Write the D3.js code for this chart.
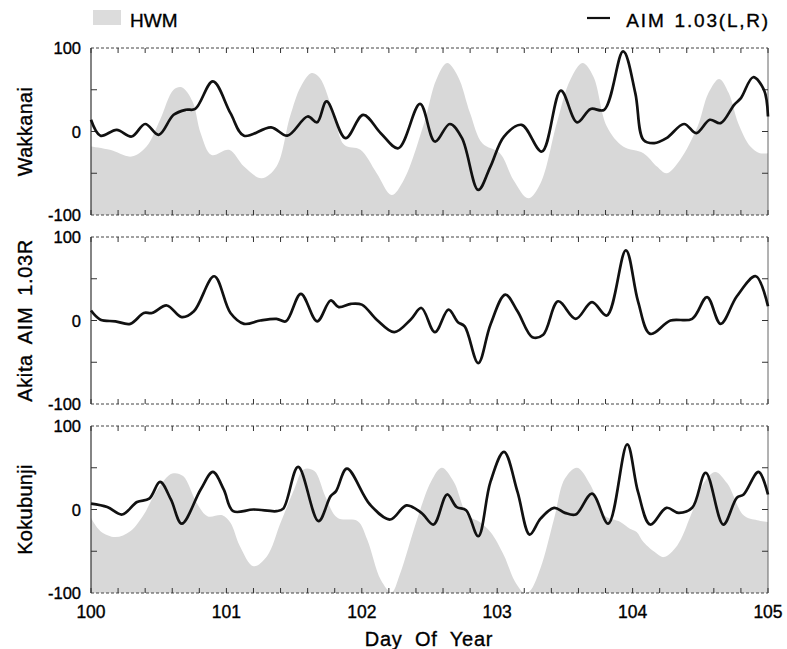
<!DOCTYPE html>
<html><head><meta charset="utf-8">
<script src="https://cdn.jsdelivr.net/npm/d3@7"></script>
<style>body{margin:0;background:#fff}svg{display:block}text{font-family:"Liberation Sans",Arial,Helvetica,sans-serif;fill:#000;stroke:#000;stroke-width:0.35px}</style>
</head><body><svg id="c" width="787" height="649"></svg>
<script>
// ---- data ----
const panelNames = ["Wakkanai", "Akita AIM 1.03R", "Kokubunji"];
const xTickLabels = [100, 101, 102, 103, 104, 105];
const yTickLabels = [100, 0, -100];

const wakLineDay = [100.0,100.07,100.19,100.30,100.40,100.50,100.61,100.70,100.77,100.90,101.03,101.13,101.33,101.45,101.60,101.67,101.74,101.88,102.01,102.14,102.27,102.43,102.54,102.65,102.74,102.86,102.95,103.05,103.18,103.33,103.47,103.59,103.69,103.79,103.93,104.02,104.08,104.16,104.25,104.38,104.47,104.57,104.65,104.75,104.80,104.89,104.97,105.0];
const wakLineVal = [14,-5,2,-6,9,-4,20,26,27,60,22,-5,5,-5,18,11,36,-8,20,-2,-20,33,-12,9,-8,-70,-42,-6,8,-24,49,11,27,26,96,46,-10,-14,-8,9,-2,14,10,32,40,65,50,18];
const wakHwmDay = [100.0,100.14,100.30,100.41,100.51,100.61,100.67,100.75,100.81,100.89,101.02,101.13,101.26,101.37,101.47,101.55,101.63,101.69,101.79,101.87,101.99,102.11,102.22,102.31,102.46,102.55,102.63,102.71,102.80,102.89,103.02,103.12,103.23,103.32,103.44,103.54,103.63,103.71,103.81,103.93,104.08,104.18,104.25,104.35,104.48,104.56,104.64,104.71,104.78,104.87,104.94,105.0];
const wakHwmVal = [-18,-22,-30,-18,14,50,53,36,-2,-28,-22,-42,-56,-42,18,54,70,64,22,-16,-22,-50,-76,-58,10,62,82,66,22,-14,-26,-58,-80,-62,10,62,82,66,6,-18,-26,-42,-50,-34,6,46,63,46,10,-18,-26,-26];

const akiLineDay = [100.0,100.07,100.18,100.29,100.39,100.45,100.56,100.67,100.76,100.91,101.03,101.13,101.25,101.37,101.44,101.55,101.67,101.77,101.83,101.92,102.0,102.11,102.24,102.36,102.44,102.54,102.64,102.71,102.76,102.86,102.95,103.06,103.15,103.26,103.34,103.45,103.58,103.70,103.81,103.95,104.04,104.13,104.28,104.44,104.55,104.65,104.77,104.91,105.0];
const akiLineVal = [12,1,-1,-4,9,9,18,4,11,53,9,-4,0,2,-1,32,-1,24,16,20,19,1,-14,1,15,-14,13,-2,-7,-51,-5,31,11,-20,-17,23,2,22,6,84,23,-16,0,2,28,-4,29,53,17];

const kokLineDay = [100.0,100.12,100.23,100.34,100.43,100.51,100.59,100.67,100.81,100.90,100.98,101.05,101.20,101.37,101.42,101.53,101.68,101.77,101.81,101.89,102.06,102.21,102.33,102.44,102.53,102.63,102.70,102.77,102.86,102.95,103.05,103.15,103.24,103.32,103.42,103.50,103.58,103.70,103.82,103.96,104.04,104.13,104.25,104.34,104.44,104.54,104.67,104.77,104.82,104.93,105.0];
const kokLineVal = [7,3,-6,9,13,33,12,-17,24,45,24,-2,0,-2,1,51,-14,16,22,49,6,-12,5,-4,-18,18,3,-1,-32,33,69,21,-30,-11,2,-4,-6,19,-17,78,21,-18,2,-4,2,44,-18,14,18,45,18];
const kokHwmDay = [100.0,100.07,100.18,100.29,100.39,100.49,100.60,100.68,100.78,100.86,100.97,101.03,101.10,101.20,101.30,101.40,101.50,101.57,101.65,101.73,101.82,101.97,102.04,102.14,102.22,102.28,102.41,102.51,102.59,102.68,102.78,102.87,102.95,103.05,103.13,103.20,103.24,103.32,103.42,103.50,103.59,103.69,103.79,103.91,103.98,104.03,104.08,104.18,104.23,104.33,104.43,104.53,104.61,104.70,104.82,104.92,105.0];
const kokHwmVal = [-10,-26,-33,-26,-6,24,43,40,8,-8,-7,-16,-44,-68,-56,-16,24,48,46,16,-10,-14,-36,-84,-99,-78,-11,33,50,33,-7,-15,-27,-55,-86,-100,-98,-70,-11,37,50,29,-7,-15,-23,-27,-39,-53,-57,-43,-7,33,45,31,-7,-13,-15];

// ---- layout ----
const svg = d3.select("#c");
const x = d3.scaleLinear().domain([100, 105]).range([91, 768]);
const panels = [
  {name: panelNames[0], top: 48, bot: 215, line: [wakLineDay, wakLineVal], hwm: [wakHwmDay, wakHwmVal]},
  {name: panelNames[1], top: 237, bot: 404, line: [akiLineDay, akiLineVal], hwm: null},
  {name: panelNames[2], top: 426, bot: 593, line: [kokLineDay, kokLineVal], hwm: [kokHwmDay, kokHwmVal]}
];
const zip = (a, b) => a.map((d, i) => [d, b[i]]);

panels.forEach((p, pi) => {
  const y = d3.scaleLinear().domain([-100, 100]).range([p.bot, p.top]);
  const g = svg.append("g");
  if (p.hwm) {
    const area = d3.area().x(d => x(d[0])).y0(y(-100)).y1(d => y(Math.max(-100, d[1]))).curve(d3.curveCatmullRom.alpha(0.5));
    g.append("path").datum(zip(p.hwm[0], p.hwm[1])).attr("d", area).attr("fill", "#d8d8d8");
  }
  // frame
  g.append("line").attr("x1", x(100)).attr("x2", x(105)).attr("y1", p.top).attr("y2", p.top).attr("stroke", "#444").attr("stroke-width", 1).attr("stroke-dasharray", "3,2");
  g.append("line").attr("x1", x(100)).attr("x2", x(105)).attr("y1", p.bot).attr("y2", p.bot).attr("stroke", "#444").attr("stroke-width", 1).attr("stroke-dasharray", "3,2");
  g.append("line").attr("x1", x(100)).attr("x2", x(100)).attr("y1", p.top).attr("y2", p.bot).attr("stroke", "#333").attr("stroke-width", 1.2);
  g.append("line").attr("x1", x(105)).attr("x2", x(105)).attr("y1", p.top).attr("y2", p.bot).attr("stroke", "#666").attr("stroke-width", 1);
  // x ticks (every 0.2 day), inward top and bottom
  const xt = d3.range(0, 26).map(i => 100 + i * 0.2);
  g.selectAll(null).data(xt).join("line").attr("x1", d => x(d)).attr("x2", d => x(d)).attr("y1", p.top).attr("y2", p.top + 5).attr("stroke", "#333").attr("stroke-width", 1);
  g.selectAll(null).data(xt).join("line").attr("x1", d => x(d)).attr("x2", d => x(d)).attr("y1", p.bot).attr("y2", p.bot - 5).attr("stroke", "#333").attr("stroke-width", 1);
  // y ticks
  const yt = [-50, 0, 50];
  g.selectAll(null).data(yt).join("line").attr("x1", x(100)).attr("x2", x(100) + 6).attr("y1", d => y(d)).attr("y2", d => y(d)).attr("stroke", "#333");
  g.selectAll(null).data(yt).join("line").attr("x1", x(105)).attr("x2", x(105) - 6).attr("y1", d => y(d)).attr("y2", d => y(d)).attr("stroke", "#333");
  // y labels
  g.selectAll(null).data(yTickLabels).join("text").attr("x", 81).attr("y", d => y(d) + 6).attr("text-anchor", "end").attr("font-size", 16.5).text(d => d);
  // title
  g.append("text").attr("transform", `translate(32,${y(0)}) rotate(-90)`).attr("text-anchor", "middle").attr("font-size", 20)
    .attr("word-spacing", pi === 1 ? 5 : 0).attr("letter-spacing", pi === 1 ? 0.6 : 0.3).text(p.name);
  // line
  const line = d3.line().x(d => x(d[0])).y(d => y(d[1])).curve(d3.curveCatmullRom.alpha(0.5));
  g.append("path").datum(zip(p.line[0], p.line[1])).attr("d", line).attr("fill", "none").attr("stroke", "#111").attr("stroke-width", 2.7).attr("stroke-linejoin", "round");
});

// x axis labels
svg.selectAll(null).data(xTickLabels).join("text").attr("x", d => x(d)).attr("y", 618).attr("text-anchor", "middle").attr("font-size", 17.5).text(d => d);
svg.append("text").attr("x", 429).attr("y", 646).attr("text-anchor", "middle").attr("font-size", 20).attr("word-spacing", 6).attr("letter-spacing", 0.8).text("Day Of Year");

// legend
svg.append("rect").attr("x", 93).attr("y", 10).attr("width", 28).attr("height", 15).attr("fill", "#dcdcdc");
svg.append("text").attr("x", 130).attr("y", 27).attr("font-size", 19).text("HWM");
svg.append("line").attr("x1", 587).attr("x2", 610).attr("y1", 18).attr("y2", 18).attr("stroke", "#111").attr("stroke-width", 2.2);
svg.append("text").attr("x", 770).attr("y", 27).attr("text-anchor", "end").attr("font-size", 19).attr("letter-spacing", 1.8).attr("word-spacing", 2).text("AIM 1.03(L,R)");
</script></body></html>
